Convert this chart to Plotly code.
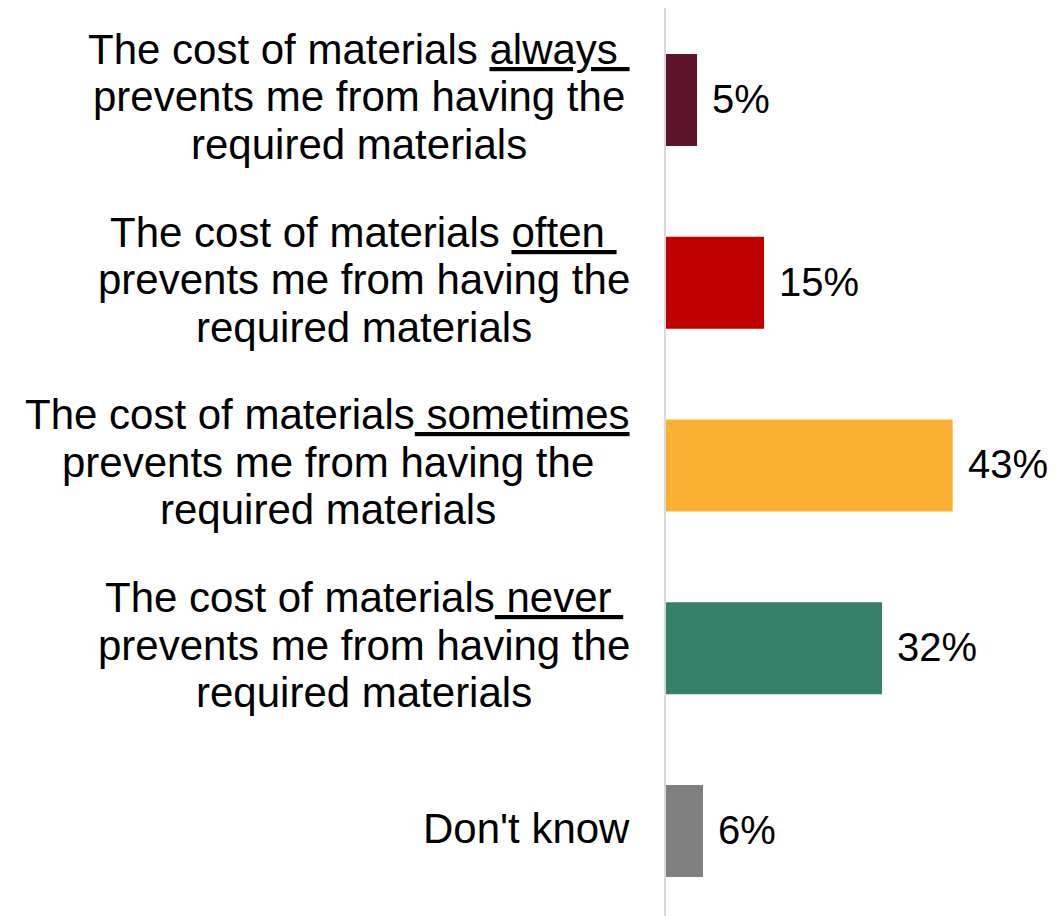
import re
import plotly.graph_objects as go

# ---- data ----
categories = ["always", "often", "sometimes", "never", "dont_know"]
label_lines = [
    ["The cost of materials <u>always\u00a0</u>", "prevents me from having the", "required materials"],
    ["The cost of materials <u>often\u00a0</u>", "prevents me from having the", "required materials"],
    ["The cost of materials<u> sometimes</u>", "prevents me from having the", "required materials"],
    ["The cost of materials<u> never\u00a0</u>", "prevents me from having the", "required materials"],
    ["Don't know"],
]
values = [4.65, 14.7, 43.0, 32.4, 5.55]
value_labels = ["5%", "15%", "43%", "32%", "6%"]
colors = ["#5E1428", "#C00000", "#FBB034", "#36806A", "#808080"]

FONT = "Liberation Sans, Arial, sans-serif"
LABEL_FS = 42
VALUE_FS = 40
LINE_SPACING = 47.5
RIGHT_SHIFT = -34  # label block right edge relative to axis

# Arial / Liberation Sans advance widths (per 1000 em) for centring lines
_ADV = {" ": 278, "\u00a0": 278, "T": 611, "h": 556, "e": 556, "c": 500, "o": 556,
        "s": 500, "t": 278, "f": 278, "m": 833, "a": 556, "r": 333, "i": 222,
        "l": 222, "w": 722, "y": 500, "p": 556, "v": 500, "n": 556, "g": 556,
        "q": 556, "u": 556, "d": 556, "D": 722, "'": 191, "k": 500}


def text_width(s, size):
    plain = re.sub(r"<[^>]+>", "", s)
    return sum(_ADV.get(ch, 556) for ch in plain) * size / 1000.0


fig = go.Figure()
fig.add_trace(go.Bar(
    x=values, y=categories, orientation="h",
    marker=dict(color=colors, line=dict(width=0)),
    width=0.503, hoverinfo="skip",
))

annotations = []
for cat, lines in zip(categories, label_lines):
    n = len(lines)
    widths = [text_width(ln, LABEL_FS) for ln in lines]
    maxw = max(widths)
    for k, ln in enumerate(lines):
        annotations.append(dict(
            xref="paper", yref="y", x=0, y=cat,
            xanchor="right", yanchor="middle",
            xshift=RIGHT_SHIFT - (maxw - widths[k]) / 2,
            yshift=3 - (k - (n - 1) / 2) * LINE_SPACING,
            text=ln, showarrow=False,
            font=dict(family=FONT, size=LABEL_FS, color="#000000"),
        ))

for cat, v, lab in zip(categories, values, value_labels):
    annotations.append(dict(
        xref="x", yref="y", x=v, y=cat,
        xanchor="left", yanchor="middle", xshift=13, yshift=1,
        text=lab, showarrow=False,
        font=dict(family=FONT, size=VALUE_FS, color="#000000"),
    ))

fig.update_layout(
    width=1058, height=916,
    margin=dict(l=666, r=0, t=8, b=0),
    paper_bgcolor="white", plot_bgcolor="white",
    showlegend=False,
    annotations=annotations,
    xaxis=dict(range=[0, 58.8], showgrid=False, zeroline=False,
               showticklabels=False, showline=False, fixedrange=True),
    yaxis=dict(range=[4.465, -0.503], showgrid=False, zeroline=False,
               showticklabels=False, ticks="", showline=True,
               linecolor="#D9D9D9", linewidth=2, fixedrange=True),
)

fig.write_html("out.html", config={"displayModeBar": False},
               post_script="document.body.style.margin='0';")
